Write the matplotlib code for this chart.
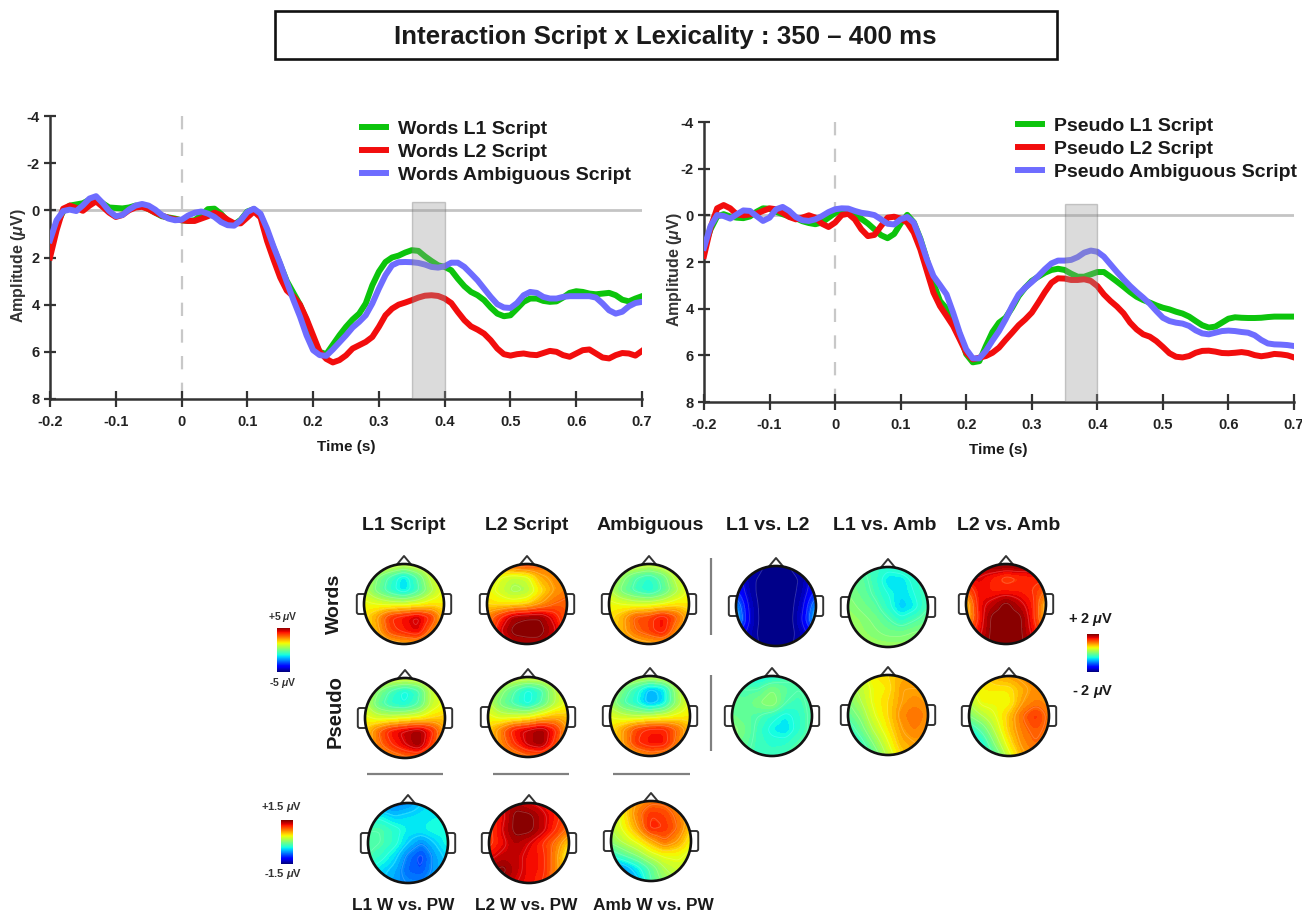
#!/usr/bin/env python3
# -*- coding: utf-8 -*-

import numpy as np
import matplotlib
matplotlib.use("Agg")
import matplotlib.pyplot as plt
from matplotlib.lines import Line2D
from matplotlib.patches import Circle, FancyBboxPatch, Polygon, Rectangle

W, H = 1302, 915

plt.rcParams['font.family'] = ['Liberation Sans', 'DejaVu Sans']
plt.rcParams['mathtext.fontset'] = 'custom'
plt.rcParams['mathtext.it'] = 'Liberation Sans:italic:bold'
plt.rcParams['mathtext.rm'] = 'Liberation Sans:bold'

# time axis, one value per 10 ms
time_s = np.arange(-20, 71) / 100

words_l1 = [1.5, .6, .05, -.2, -.25, -.3, -.45, -.5, -.3, -.12, -.1, -.08, -.12, -.2, -.18, -.05, .1, .25, .3, .35,
            .42, .45, .42, .2, -.05, -.07, .15, .45, .6, .4, .05, -.05, .2, .9, 1.6, 2.3, 3.0, 3.5, 4.0, 4.66,
            5.5, 6.0, 6.1, 5.7, 5.3, 4.94, 4.63, 4.38, 3.95, 3.18, 2.6, 2.19, 2.0, 1.92, 1.79, 1.69, 1.72, 1.95, 2.15, 2.33,
            2.4, 2.54, 2.9, 3.22, 3.46, 3.6, 3.81, 4.12, 4.38, 4.49, 4.45, 4.17, 3.88, 3.74, 3.74, 3.84, 3.88, 3.86, 3.7, 3.5,
            3.43, 3.46, 3.53, 3.56, 3.53, 3.5, 3.6, 3.79, 3.86, 3.74, 3.64]
words_l2 = [2.0, .85, -.07, -.2, -.1, .02, -.2, -.38, -.15, .1, .28, .2, 0, -.12, -.15, -.05, .1, .22, .32, .38,
            .42, .45, .45, .35, .25, .1, .2, .4, .55, .55, .3, .05, .3, 1.3, 2.1, 2.85, 3.4, 3.65, 4.0, 4.6,
            5.3, 6.0, 6.3, 6.45, 6.35, 6.15, 5.86, 5.72, 5.58, 5.37, 4.94, 4.45, 4.17, 4.0, 3.91, 3.81, 3.7, 3.62, 3.6, 3.63,
            3.74, 3.93, 4.31, 4.66, 4.92, 5.06, 5.23, 5.51, 5.86, 6.1, 6.16, 6.1, 6.07, 6.12, 6.14, 6.05, 5.96, 6.0, 6.14, 6.21,
            6.07, 5.93, 5.9, 6.07, 6.24, 6.28, 6.14, 6.05, 6.07, 6.16, 5.96]
words_amb = [1.27, .42, .03, -.03, .03, -.21, -.5, -.6, -.31, .03, .25, .2, -.03, -.2, -.27, -.2, -.03, .2, .35, .42,
             .4, .22, .1, .05, .14, .28, .5, .63, .65, .42, .07, -.07, .14, .78, 1.55, 2.26, 3.04, 3.8, 4.5, 5.3,
             5.93, 6.14, 6.17, 5.9, 5.6, 5.3, 4.97, 4.73, 4.45, 3.95, 3.32, 2.75, 2.33, 2.2, 2.19, 2.2, 2.23, 2.3, 2.4, 2.43,
             2.37, 2.22, 2.22, 2.4, 2.68, 2.97, 3.32, 3.67, 3.98, 4.12, 4.14, 3.93, 3.6, 3.46, 3.5, 3.67, 3.74, 3.74, 3.67, 3.64,
             3.64, 3.64, 3.64, 3.7, 3.95, 4.24, 4.38, 4.3, 4.07, 3.93, 3.88]

pseudo_l1 = [1.4, .6, .05, -.05, .05, .1, .12, .05, -.15, -.3, -.28, -.15, -.05, .05, .12, .25, .33, .38, .3, .1,
             -.1, -.2, -.2, -.05, .15, .35, .6, .85, .98, .8, .35, -.02, .3, 1.0, 1.9, 2.9, 3.67, 4.0, 4.4, 5.1,
             5.95, 6.3, 6.25, 5.6, 5.0, 4.6, 4.39, 3.96, 3.46, 3.1, 2.81, 2.63, 2.46, 2.34, 2.29, 2.34, 2.5, 2.63, 2.63, 2.53,
             2.43, 2.43, 2.63, 2.84, 3.06, 3.29, 3.49, 3.63, 3.74, 3.86, 3.96, 4.03, 4.13, 4.21, 4.34, 4.53, 4.71, 4.81, 4.77, 4.6,
             4.43, 4.37, 4.39, 4.4, 4.4, 4.39, 4.36, 4.34, 4.34, 4.34, 4.34]
pseudo_l2 = [1.74, .53, -.3, -.44, -.3, -.04, 0, -.04, -.07, -.19, -.3, -.26, -.11, .07, .17, .1, 0, .1, .36, .5,
             .31, -.01, -.07, .17, .6, .89, .84, .46, .1, .06, .14, .31, .74, 1.46, 2.39, 3.31, 3.89, 4.31, 4.74, 5.31,
             5.89, 6.17, 6.1, 6.03, 5.89, 5.67, 5.34, 5.03, 4.71, 4.46, 4.17, 3.74, 3.29, 2.89, 2.7, 2.71, 2.77, 2.77, 2.74, 2.81,
             3.03, 3.39, 3.67, 3.91, 4.2, 4.6, 4.89, 5.1, 5.2, 5.39, 5.64, 5.91, 6.06, 6.09, 6.03, 5.89, 5.81, 5.8, 5.84, 5.9,
             5.91, 5.89, 5.86, 5.9, 5.99, 6.04, 6.0, 5.94, 5.96, 6.0, 6.09]
pseudo_amb = [1.39, .46, -.01, .03, .14, -.04, -.21, -.19, .03, .24, .1, -.26, -.36, -.19, .07, .21, .24, .17, .03, -.14,
              -.26, -.3, -.29, -.19, -.11, -.07, -.01, .17, .36, .39, .17, .07, .31, 1.03, 1.89, 2.6, 2.99, 3.39, 4.17, 5.03,
              5.74, 6.13, 6.13, 5.81, 5.37, 4.96, 4.46, 3.89, 3.39, 3.1, 2.86, 2.6, 2.31, 2.06, 1.94, 1.94, 1.91, 1.79, 1.6, 1.51,
              1.56, 1.77, 2.1, 2.43, 2.74, 3.03, 3.29, 3.53, 3.79, 4.1, 4.39, 4.53, 4.6, 4.64, 4.74, 4.93, 5.06, 5.1, 5.03, 4.96,
              4.94, 4.96, 5.0, 5.03, 5.14, 5.34, 5.49, 5.53, 5.54, 5.56, 5.6]

x_ticks = [-0.2, -0.1, 0, 0.1, 0.2, 0.3, 0.4, 0.5, 0.6, 0.7]
x_labels = ["-0.2", "-0.1", "0", "0.1", "0.2", "0.3", "0.4", "0.5", "0.6", "0.7"]
y_ticks = [-4, -2, 0, 2, 4, 6, 8]
words_names = ["Words L1 Script", "Words L2 Script", "Words Ambiguous Script"]
pseudo_names = ["Pseudo L1 Script", "Pseudo L2 Script", "Pseudo Ambiguous Script"]

# scalp maps: 7x7, front of the head on top, position on the colour bar in percent
map_w_l1 = [[64, 64, 62, 60, 62, 64, 64], [60, 50, 42, 34, 44, 58, 64], [58, 48, 40, 34, 42, 54, 64], [64, 62, 60, 60, 62, 66, 66],
            [66, 74, 86, 90, 94, 86, 70], [66, 72, 84, 88, 92, 78, 68], [64, 66, 70, 72, 72, 68, 66]]
map_w_l2 = [[72, 76, 84, 86, 82, 76, 72], [66, 62, 58, 60, 72, 76, 76], [64, 60, 54, 56, 66, 74, 78], [68, 66, 66, 68, 74, 80, 82],
            [76, 86, 96, 98, 98, 90, 80], [76, 92, 100, 100, 100, 94, 82], [74, 86, 94, 96, 96, 88, 78]]
map_w_amb = [[64, 62, 62, 60, 62, 64, 64], [60, 52, 44, 40, 46, 58, 64], [58, 48, 42, 38, 44, 54, 64], [64, 62, 60, 60, 62, 66, 66],
             [66, 72, 82, 84, 90, 82, 70], [66, 72, 80, 84, 90, 76, 68], [64, 66, 70, 72, 72, 68, 66]]
map_p_l1 = [[66, 64, 62, 62, 62, 64, 66], [60, 50, 42, 36, 42, 58, 64], [58, 46, 40, 38, 44, 58, 64], [64, 60, 60, 62, 64, 68, 70],
            [68, 80, 90, 94, 98, 88, 72], [68, 78, 86, 92, 98, 84, 70], [66, 70, 74, 78, 78, 72, 68]]
map_p_l2 = [[66, 64, 62, 62, 62, 64, 66], [60, 52, 44, 36, 42, 56, 64], [58, 48, 42, 36, 44, 56, 64], [64, 60, 60, 62, 68, 72, 70],
            [68, 78, 90, 94, 98, 88, 72], [68, 76, 86, 94, 98, 84, 70], [66, 70, 74, 78, 78, 72, 68]]
map_p_amb = [[64, 62, 60, 60, 62, 64, 64], [58, 48, 40, 30, 34, 54, 64], [54, 44, 38, 28, 34, 52, 64], [62, 58, 56, 58, 60, 64, 66],
             [66, 74, 84, 88, 88, 80, 70], [66, 74, 86, 90, 90, 78, 68], [64, 68, 72, 76, 74, 70, 66]]
map_w_l1l2 = [[10, 6, 2, 2, 2, 6, 10], [12, 3, 1, 0, 0, 3, 12], [16, 4, 0, 0, 0, 4, 16], [28, 6, 0, 0, 0, 6, 28],
              [34, 7, 0, 0, 0, 8, 34], [14, 5, 0, 0, 0, 5, 14], [10, 5, 1, 0, 1, 5, 10]]
map_w_l1amb = [[46, 44, 42, 40, 42, 44, 46], [48, 46, 42, 34, 34, 40, 44], [50, 47, 43, 38, 34, 38, 44], [52, 49, 46, 40, 32, 36, 44],
               [54, 52, 49, 45, 40, 44, 48], [55, 53, 51, 49, 49, 51, 52], [56, 55, 54, 54, 54, 54, 54]]
map_w_l2amb = [[100, 98, 100, 100, 100, 98, 96], [92, 92, 88, 84, 86, 88, 88], [80, 90, 88, 88, 88, 86, 80], [68, 90, 94, 100, 94, 88, 70],
               [68, 88, 100, 100, 100, 88, 70], [80, 90, 100, 100, 100, 90, 78], [90, 94, 100, 100, 100, 94, 90]]
map_p_l1l2 = [[40, 38, 36, 38, 42, 44, 44], [46, 44, 44, 50, 46, 44, 46], [46, 46, 50, 54, 44, 42, 46], [48, 46, 44, 40, 36, 40, 46],
              [52, 48, 42, 36, 34, 40, 46], [50, 46, 42, 40, 40, 44, 46], [46, 44, 42, 42, 44, 46, 46]]
map_p_l1amb = [[58, 60, 66, 68, 72, 72, 72], [54, 58, 64, 66, 74, 74, 74], [50, 56, 64, 68, 74, 76, 74], [46, 52, 62, 68, 76, 80, 76],
               [40, 48, 58, 66, 74, 78, 74], [36, 42, 52, 62, 72, 74, 74], [34, 38, 46, 58, 68, 74, 72]]
map_p_l2amb = [[64, 66, 72, 74, 76, 78, 76], [60, 66, 66, 66, 72, 76, 76], [56, 64, 64, 64, 74, 78, 76], [50, 56, 62, 70, 80, 86, 78],
               [38, 46, 58, 70, 78, 82, 78], [32, 38, 52, 66, 76, 80, 76], [30, 36, 44, 60, 72, 78, 76]]
map_b_l1 = [[24, 24, 24, 26, 32, 36, 36], [38, 36, 32, 34, 35, 36, 36], [44, 44, 40, 36, 36, 38, 38], [46, 44, 40, 32, 26, 32, 38],
            [44, 40, 34, 24, 18, 28, 34], [38, 34, 30, 22, 20, 28, 32], [34, 32, 28, 26, 26, 30, 32]]
map_b_l2 = [[90, 92, 96, 92, 90, 86, 82], [86, 90, 100, 100, 94, 88, 82], [84, 92, 100, 100, 94, 86, 78], [84, 90, 96, 92, 86, 78, 68],
            [90, 94, 94, 90, 88, 76, 62], [96, 100, 94, 90, 88, 76, 66], [92, 96, 92, 90, 86, 76, 70]]
map_b_amb = [[58, 68, 74, 78, 78, 74, 68], [56, 66, 78, 86, 84, 78, 70], [56, 64, 74, 88, 86, 80, 68], [52, 58, 64, 72, 80, 74, 64],
             [40, 46, 52, 60, 64, 64, 60], [24, 28, 36, 46, 56, 60, 58], [20, 24, 30, 44, 52, 56, 56]]

col_names = ["L1 Script", "L2 Script", "Ambiguous", "L1 vs. L2", "L1 vs. Amb", "L2 vs. Amb"]
col_x = [404, 527, 650, 768, 885, 1009]
bottom_names = ["L1 W vs. PW", "L2 W vs. PW", "Amb W vs. PW"]
bottom_x = [403, 526, 653]

GREEN, RED, BLUE = '#0cc40c', '#f20d0d', '#6e6cff'
DARK = '#333333'


def rect(left, top, right, bottom):
    return [left / W, 1 - bottom / H, (right - left) / W, (bottom - top) / H]


def label(fig, x, y, s, size, **kw):
    kw.setdefault('ha', 'center')
    kw.setdefault('va', 'center')
    kw.setdefault('weight', 'bold')
    kw.setdefault('color', '#1a1a1a')
    return fig.text(x / W, 1 - y / H, s, fontsize=size, **kw)


def fig_line(fig, x0, y0, x1, y1, color='#808080', lw=1.6):
    fig.add_artist(Line2D([x0 / W, x1 / W], [1 - y0 / H, 1 - y1 / H], color=color, lw=lw,
                          solid_capstyle='butt'))


def erp(fig, box, series, names, shade_top, legend_xy):
    ax = fig.add_axes(rect(*box))
    ax.axhline(0, color='#c4c4c4', lw=2, zorder=1)
    ax.plot([0, 0], [-4, 8], color='#c8c8c8', lw=1.6, dashes=(6, 6), zorder=1)
    lines = []
    for values, color in zip(series, [GREEN, RED, BLUE]):
        l, = ax.plot(time_s, values, color=color, lw=4.3, zorder=3, solid_joinstyle='round')
        lines.append(l)
    ax.add_patch(Rectangle((0.35, shade_top), 0.05, 8 - shade_top, facecolor='#9a9a9a', alpha=0.35,
                           edgecolor='#707070', lw=1, zorder=4))
    ax.set_xlim(-0.2, 0.7)
    ax.set_ylim(8, -4)
    ax.set_xticks(x_ticks, x_labels, fontweight='bold', fontsize=10.5, color='#222222')
    ax.set_yticks(y_ticks, [str(v) for v in y_ticks], fontweight='bold', fontsize=10.5, color='#222222')
    ax.tick_params(axis='x', direction='inout', length=11.5, width=1.6, color=DARK, pad=6)
    ax.tick_params(axis='y', direction='inout', length=8.5, width=1.6, color=DARK, pad=3)
    for side in ['top', 'right']:
        ax.spines[side].set_visible(False)
    for side in ['left', 'bottom']:
        ax.spines[side].set_linewidth(1.8)
        ax.spines[side].set_color(DARK)
    ax.patch.set_alpha(0)
    fig.legend(lines, names, loc='center left', bbox_to_anchor=(legend_xy[0] / W, 1 - legend_xy[1] / H),
               frameon=False, prop={'weight': 'bold', 'size': 14}, handlelength=1.25, handletextpad=0.61,
               labelspacing=0.28, borderpad=0, borderaxespad=0, labelcolor='#1a1a1a')


def smooth_field(grid, n=180):
    # coarse readings to a fine raster, only so the contours come out round
    grid = np.array(grid, dtype=float)
    pos = np.linspace(0, 6, n)
    fine = np.array([np.interp(pos, np.arange(7), row) for row in grid])
    fine = np.array([np.interp(pos, np.arange(7), col) for col in fine.T]).T
    k = np.ones(11) / 11
    for _ in range(3):
        p = np.pad(fine, 5, mode='edge')
        p = np.apply_along_axis(lambda v: np.convolve(v, k, mode='valid'), 0, p)
        p = np.apply_along_axis(lambda v: np.convolve(v, k, mode='valid'), 1, p)
        fine = p
    return fine


def head(fig, cx, cy, grid, r=40):
    m = 1.35
    ax = fig.add_axes(rect(cx - r * m, cy - r * m, cx + r * m, cy + r * m))
    ax.set_xlim(-m, m)
    ax.set_ylim(-m, m)
    ax.set_aspect('equal')
    ax.axis('off')
    for sign in [-1, 1]:
        ax.add_patch(FancyBboxPatch((sign * 1.07 - 0.06, -0.2), 0.12, 0.4, boxstyle='round,pad=0.05',
                                    facecolor='white', edgecolor='#333333', lw=1.4, zorder=1))
    ax.add_patch(Polygon([(-0.2, 0.96), (0, 1.2), (0.2, 0.96)], closed=True, facecolor='white',
                         edgecolor='#333333', lw=1.4, joinstyle='round', zorder=1))
    clip = Circle((0, 0), 1, transform=ax.transData)
    field = smooth_field(grid)
    xs = np.linspace(-1, 1, field.shape[1])
    ys = np.linspace(1, -1, field.shape[0])
    cf = ax.contourf(xs, ys, field, levels=np.linspace(-0.1, 100.1, 45), cmap='jet', zorder=2)
    cf.set_clip_path(clip)
    cl = ax.contour(xs, ys, field, levels=np.linspace(2, 98, 17), colors='white', linewidths=0.6,
                    alpha=0.2, zorder=3)
    cl.set_clip_path(clip)
    ax.add_patch(Circle((0, 0), 1, facecolor='none', edgecolor='#111111', lw=1.9, zorder=4))


def colorbar(fig, left, top, right, bottom):
    ax = fig.add_axes(rect(left, top, right, bottom))
    ax.imshow(np.linspace(100, 0, 64).reshape(-1, 1), aspect='auto', cmap='jet', vmin=0, vmax=100)
    ax.axis('off')


def main():
    fig = plt.figure(figsize=(W / 100, H / 100), dpi=100)

    # title box
    fig.add_artist(Rectangle((275 / W, 1 - 59 / H), 782 / W, 48 / H, transform=fig.transFigure,
                             facecolor='white', edgecolor='#111111', lw=1.9))
    label(fig, 665, 37, "Interaction Script x Lexicality : 350 \u2013 400 ms", 18.6)

    erp(fig, (50, 116, 642, 399), [words_l1, words_l2, words_amb], words_names, -0.35, (362, 152))
    erp(fig, (704, 122, 1294, 402), [pseudo_l1, pseudo_l2, pseudo_amb], pseudo_names, -0.5, (1018, 149))

    label(fig, 346, 447, "Time (s)", 11)
    label(fig, 998, 450, "Time (s)", 11)
    label(fig, 19, 266, r"Amplitude ($\mu$V)", 11.5, rotation=90, color='#333333')
    label(fig, 674, 270, r"Amplitude ($\mu$V)", 11.5, rotation=90, color='#333333')

    for x, name in zip(col_x, col_names):
        label(fig, x, 525, name, 14)
    for x, name in zip(bottom_x, bottom_names):
        label(fig, x, 906, name, 12.4)
    label(fig, 334, 604, "Words", 14, rotation=90)
    label(fig, 335, 712, "Pseudo", 14.5, rotation=90)

    head(fig, 404, 604, map_w_l1)
    head(fig, 527, 604, map_w_l2)
    head(fig, 649, 604, map_w_amb)
    head(fig, 776, 606, map_w_l1l2)
    head(fig, 888, 607, map_w_l1amb)
    head(fig, 1006, 604, map_w_l2amb)
    head(fig, 405, 718, map_p_l1)
    head(fig, 528, 717, map_p_l2)
    head(fig, 650, 716, map_p_amb)
    head(fig, 772, 716, map_p_l1l2)
    head(fig, 888, 715, map_p_l1amb)
    head(fig, 1009, 716, map_p_l2amb)
    head(fig, 408, 843, map_b_l1)
    head(fig, 529, 843, map_b_l2)
    head(fig, 651, 841, map_b_amb)

    colorbar(fig, 277, 628, 290, 672)
    colorbar(fig, 1087, 634, 1099, 672)
    colorbar(fig, 281, 820, 293, 864)
    label(fig, 283, 617, r"+5 $\mu$V", 7.5, color='#333333')
    label(fig, 283, 683, r"-5 $\mu$V", 7.5, color='#333333')
    label(fig, 1091, 620, r"+ 2 $\mu$V", 10.5)
    label(fig, 1093, 691, r"- 2 $\mu$V", 10.5)
    label(fig, 282, 807, r"+1.5 $\mu$V", 8, color='#333333')
    label(fig, 283, 874, r"-1.5 $\mu$V", 8, color='#333333')

    fig_line(fig, 710.5, 558, 710.5, 635)
    fig_line(fig, 710.5, 675, 710.5, 751)
    fig_line(fig, 367, 774, 443, 774)
    fig_line(fig, 493, 774, 569, 774)
    fig_line(fig, 613, 774, 690, 774)

    fig.savefig("out.png", dpi=100)


if __name__ == '__main__':
    main()
